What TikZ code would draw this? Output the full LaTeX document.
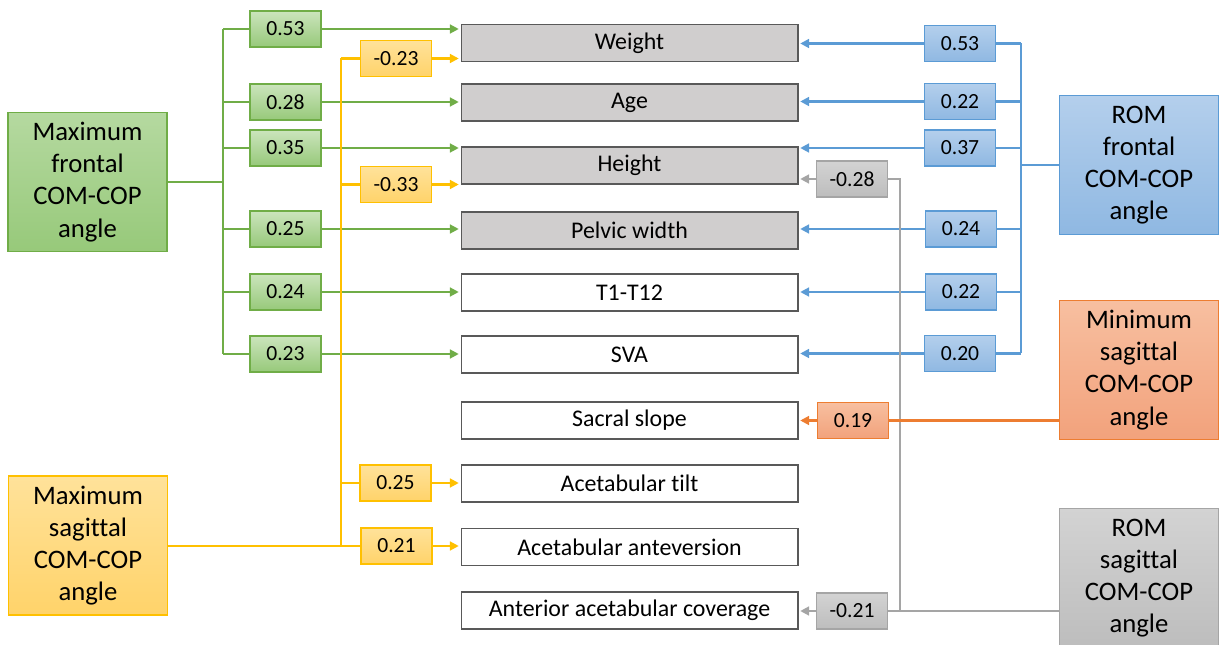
\documentclass[tikz,border=0pt]{standalone}
\usepackage{fontspec}
\setmainfont{Carlito}[Ligatures=NoCommon]
\usetikzlibrary{arrows.meta}
\definecolor{gline}{HTML}{70AD47}
\definecolor{gtop}{HTML}{B5D9A0}
\definecolor{gbot}{HTML}{97C97A}
\definecolor{yline}{HTML}{FFC000}
\definecolor{ytop}{HTML}{FFE29A}
\definecolor{ybot}{HTML}{FFD36A}
\definecolor{bline}{HTML}{5B9BD5}
\definecolor{btop}{HTML}{B4CFEC}
\definecolor{bbot}{HTML}{8FB8E2}
\definecolor{oline}{HTML}{ED7D31}
\definecolor{otop}{HTML}{F7BFA0}
\definecolor{obot}{HTML}{F2A27C}
\definecolor{rline}{HTML}{A5A5A5}
\definecolor{rtop}{HTML}{D3D3D3}
\definecolor{rbot}{HTML}{BDBDBD}
\definecolor{midgray}{HTML}{D0CECE}
\definecolor{midborder}{HTML}{595959}
\tikzset{
  big/.style={draw, line width=0.6pt, minimum width=3.18cm, minimum height=2.78cm, align=center, inner sep=0pt, font=\fontsize{15.2}{18.3}\selectfont},
  lab/.style={draw, line width=0.6pt, minimum width=1.42cm, minimum height=0.72cm, inner sep=0pt, font=\fontsize{12.3}{14}\selectfont},
  mid/.style={draw=midborder, line width=0.6pt, minimum width=6.74cm, minimum height=0.74cm, inner sep=0pt, font=\fontsize{13.6}{15}\selectfont},
  midg/.style={mid, fill=midgray},
  glab/.style={lab, draw=gline, top color=gtop!70!white, bottom color=gbot},
  ylab/.style={lab, draw=yline, top color=ytop, bottom color=ybot},
  blab/.style={lab, draw=bline, top color=btop, bottom color=bbot},
  olab/.style={lab, draw=oline, top color=otop, bottom color=obot},
  rlab/.style={lab, draw=rline, top color=rtop, bottom color=rbot},
  conn/.style={line width=1.2pt},
  tip/.style={-{Triangle[length=5pt,width=5pt]}, shorten >=1pt},
}
\begin{document}
\begin{tikzpicture}[x=0.02cm, y=-0.02cm]
\useasboundingbox (0,0) rectangle (1221,645);
% big boxes
\node[big, draw=gline, top color=gtop, bottom color=gbot] (lf) at (87.5,182) {Maximum\\frontal\\COM-COP\\angle};
\node[big, draw=yline, top color=ytop, bottom color=ybot] (ls) at (88,545.5) {Maximum\\sagittal\\COM-COP\\angle};
\node[big, draw=bline, top color=btop, bottom color=bbot] (rf) at (1139,165) {ROM\\frontal\\COM-COP\\angle};
\node[big, draw=oline, top color=otop, bottom color=obot] (ms) at (1139,370) {Minimum\\sagittal\\COM-COP\\angle};
\node[big, draw=rline, top color=rtop, bottom color=rbot] (rs) at (1139,578) {ROM\\sagittal\\COM-COP\\angle};
% middle boxes
\node[midg] (w) at (629.5,43) {Weight};
\node[midg] (a) at (629.5,102.5) {Age};
\node[midg] (h) at (629.5,165.5) {Height};
\node[midg] (p) at (629.5,230.5) {Pelvic width};
\node[mid] (t) at (629.5,292.5) {T1-T12};
\node[mid] (s) at (629.5,354.5) {SVA};
\node[mid] (ss) at (629.5,420.5) {Sacral slope};
\node[mid] (at) at (629.5,483.5) {Acetabular tilt};
\node[mid] (aa) at (629.5,547) {Acetabular anteversion};
\node[mid] (ac) at (629.5,610.5) {Anterior acetabular coverage};
% green labels
\node[glab] (g1) at (285.5,29) {0.53};
\node[glab] (g2) at (285.5,102) {0.28};
\node[glab] (g3) at (285.5,148) {0.35};
\node[glab] (g4) at (285.5,229) {0.25};
\node[glab] (g5) at (285.5,292) {0.24};
\node[glab] (g6) at (285.5,354) {0.23};
% yellow labels
\node[ylab] (y1) at (396,58.5) {-0.23};
\node[ylab] (y2) at (396,184.5) {-0.33};
\node[ylab] (y3) at (395.5,483) {0.25};
\node[ylab] (y4) at (396.5,546) {0.21};
% blue labels
\node[blab] (b1) at (960,43.5) {0.53};
\node[blab] (b2) at (960,101.5) {0.22};
\node[blab] (b3) at (960,148) {0.37};
\node[blab] (b4) at (961,229) {0.24};
\node[blab] (b5) at (961,292) {0.22};
\node[blab] (b6) at (960,353.5) {0.20};
% orange label
\node[olab] (o1) at (853,420.5) {0.19};
% gray labels
\node[rlab] (r1) at (852,179) {-0.28};
\node[rlab] (r2) at (852,611) {-0.21};
% trunk coordinates
\coordinate (gT) at (223,29);
\coordinate (gB) at (223,354);
\coordinate (yT) at (341,58.5);
\coordinate (yB) at (341,546);
\coordinate (bT) at (1021,43.5);
\coordinate (bB) at (1021,353.5);
\coordinate (rC) at (900,611);
% green connectors
\draw[conn, gline] (gT) -- (gB);
\draw[conn, gline] (lf.east) -- (lf.east -| gT);
\foreach \i/\m in {1/w,2/a,3/h,4/p,5/t,6/s}{
  \draw[conn, gline] (g\i.west) -- (g\i.west -| gT);
  \draw[conn, gline, tip] (g\i.east) -- (g\i.east -| \m.west);
}
% yellow connectors
\draw[conn, yline] (yT) -- (yB);
\draw[conn, yline] (ls.east |- y4) -- (y4.west);
\foreach \i/\m in {1/w,2/h,3/at,4/aa}{
  \draw[conn, yline] (y\i.west) -- (y\i.west -| yT);
  \draw[conn, yline, tip] (y\i.east) -- (y\i.east -| \m.west);
}
% blue connectors
\draw[conn, bline] (bT) -- (bB);
\draw[conn, bline] (rf.west) -- (rf.west -| bT);
\foreach \i/\m in {1/w,2/a,3/h,4/p,5/t,6/s}{
  \draw[conn, bline] (b\i.east) -- (b\i.east -| bT);
  \draw[conn, bline, tip] (b\i.west) -- (b\i.west -| \m.east);
}
% gray connectors
\draw[conn, rline] (rs.west |- r2) -- (r2.east);
\draw[conn, rline] (r1.east) -| (rC);
\draw[conn, rline, tip] (r1.west) -- (r1.west -| h.east);
\draw[conn, rline, tip] (r2.west) -- (r2.west -| ac.east);
% orange connectors
\draw[conn, oline] (ms.west |- o1) -- (o1.east);
\draw[conn, oline, tip] (o1.west) -- (o1.west -| ss.east);
\end{tikzpicture}
\end{document}
